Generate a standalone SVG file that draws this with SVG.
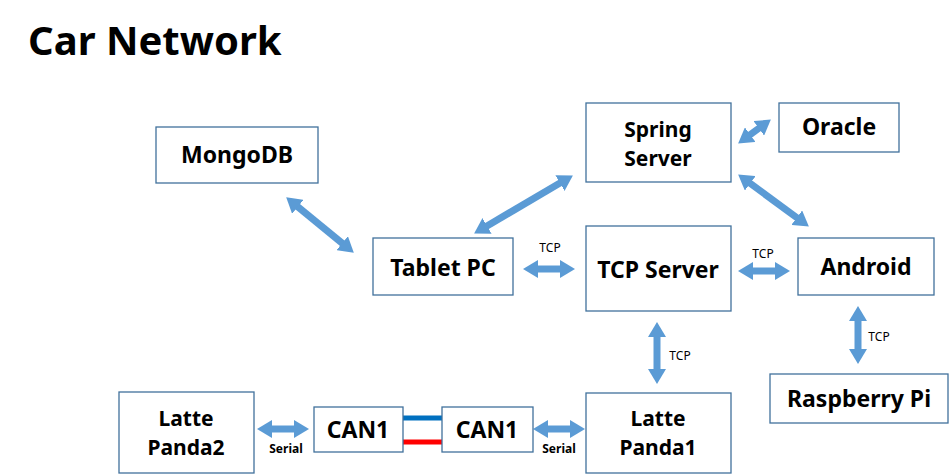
<svg xmlns="http://www.w3.org/2000/svg" width="949" height="475" viewBox="0 0 949 475">
<style>
.box{fill:#fff;stroke:#41719C;stroke-width:1.3}
.t{font-family:"Noto Sans","Open Sans","Noto Sans CJK KR",sans-serif;font-weight:bold;font-size:23px;text-anchor:middle;fill:#000}
.t2{font-size:21px}
.s{font-family:"Noto Sans","Open Sans","Noto Sans CJK KR",sans-serif;font-size:12px;text-anchor:middle;fill:#000}
.sb{font-weight:bold}
.ar{stroke:#5B9BD5;stroke-width:7;fill:none;marker-start:url(#ah);marker-end:url(#ah)}
</style>
<defs>
<marker id="ah" markerUnits="userSpaceOnUse" markerWidth="15" markerHeight="18" viewBox="0 0 15 18" refX="4" refY="9" orient="auto-start-reverse">
<path d="M0,0 L15,9 L0,18 Z" fill="#5B9BD5"/>
</marker>
</defs>
<rect width="949" height="475" fill="#fff"/>
<text x="28" y="55" font-family="'Noto Sans','Open Sans',sans-serif" font-weight="bold" font-size="40">Car Network</text>

<g id="connectors">
<line class="ar" x1="294.7" y1="204.3" x2="345.3" y2="245.7"/>
<line class="ar" x1="483.6" y1="227.9" x2="563.4" y2="181.1"/>
<line class="ar" x1="747" y1="137" x2="762" y2="126"/>
<line class="ar" x1="747" y1="181" x2="800" y2="220"/>
<line class="ar" x1="534" y1="269" x2="564" y2="269"/>
<line class="ar" x1="749" y1="271" x2="779" y2="271"/>
<line class="ar" x1="657" y1="333" x2="657" y2="373"/>
<line class="ar" x1="858" y1="317" x2="858" y2="353"/>
<line class="ar" x1="268" y1="429" x2="298" y2="429"/>
<line class="ar" x1="544" y1="429" x2="574" y2="429"/>
<line x1="403" y1="418" x2="442" y2="418" stroke="#0070C0" stroke-width="5"/>
<line x1="403" y1="442" x2="442" y2="442" stroke="#FF0000" stroke-width="5"/>
<text class="s" x="550" y="252">TCP</text>
<text class="s" x="763" y="258">TCP</text>
<text class="s" x="680" y="360">TCP</text>
<text class="s" x="879" y="341">TCP</text>
<text class="s sb" x="286" y="453">Serial</text>
<text class="s sb" x="559" y="453">Serial</text>
</g>

<g id="mongodb"><rect class="box" x="156" y="127" width="162" height="56"/><text class="t" x="237" y="163">MongoDB</text></g>
<g id="spring"><rect class="box" x="586" y="103" width="145" height="79"/><text class="t t2"><tspan x="658" y="137">Spring</tspan><tspan x="658" y="166">Server</tspan></text></g>
<g id="oracle"><rect class="box" x="779" y="103" width="120" height="49"/><text class="t" x="839" y="135">Oracle</text></g>
<g id="tablet"><rect class="box" x="373" y="238" width="140" height="57"/><text class="t" x="443" y="276">Tablet PC</text></g>
<g id="tcpserver"><rect class="box" x="586" y="226" width="145" height="85"/><text class="t" x="658" y="278">TCP Server</text></g>
<g id="android"><rect class="box" x="798" y="238" width="136" height="57"/><text class="t" x="866" y="275">Android</text></g>
<g id="raspberry"><rect class="box" x="770" y="374" width="178" height="49"/><text class="t" x="859" y="407">Raspberry Pi</text></g>
<g id="panda2"><rect class="box" x="119" y="392" width="135" height="81"/><text class="t t2"><tspan x="186" y="426">Latte</tspan><tspan x="186" y="455">Panda2</tspan></text></g>
<g id="can1a"><rect class="box" x="314" y="407" width="89" height="45"/><text class="t" x="358" y="438">CAN1</text></g>
<g id="can1b"><rect class="box" x="442" y="407" width="91" height="45"/><text class="t" x="487" y="438">CAN1</text></g>
<g id="panda1"><rect class="box" x="586" y="393" width="145" height="80"/><text class="t t2"><tspan x="658" y="426">Latte</tspan><tspan x="658" y="455">Panda1</tspan></text></g>
</svg>
